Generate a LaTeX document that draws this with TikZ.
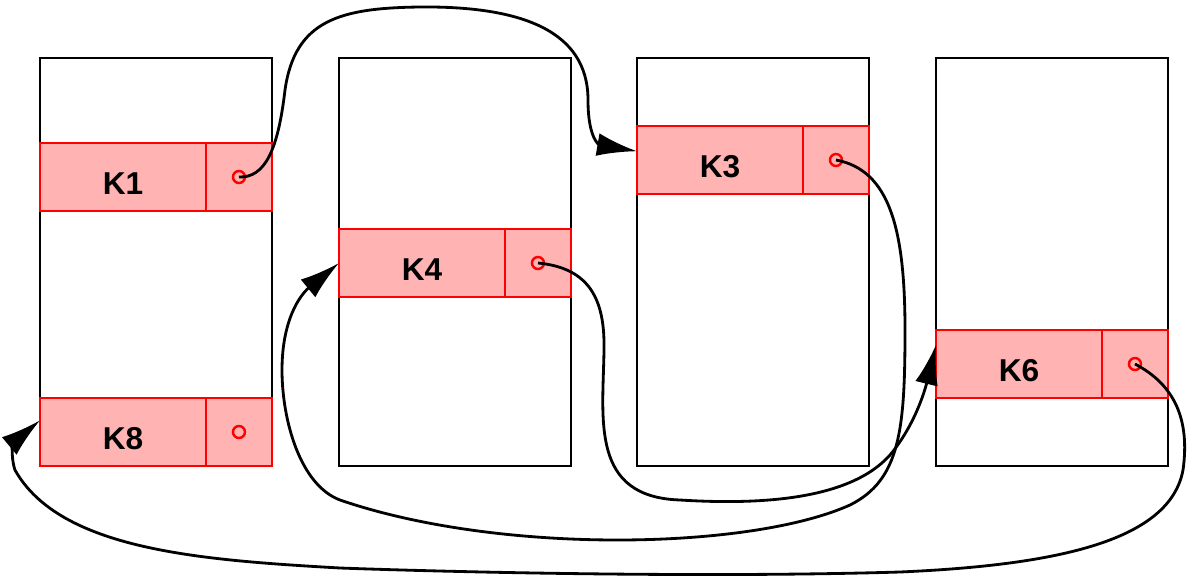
\documentclass[tikz,border=0pt]{standalone}
\usepackage{fontspec}
\setmainfont{Liberation Sans}
\usepackage{xcolor}
\usepackage{tikz}
\usetikzlibrary{positioning,arrows.meta}

\definecolor{entryfill}{RGB}{255,179,179}
\tikzset{
  bin/.style={draw=black, fill=white, line width=1.6pt, minimum width=4.64cm, minimum height=8.16cm, inner sep=0pt, outer sep=0pt},
  keycell/.style={draw=red, fill=entryfill, line width=1.6pt, minimum width=3.32cm, minimum height=1.36cm, inner sep=0pt, outer sep=0pt, text height=0.7cm, text depth=0pt, font=\fontsize{18}{20}\selectfont\bfseries},
  ptrcell/.style={keycell, minimum width=1.32cm},
  dot/.style={circle, draw=red, line width=1.4pt, minimum size=0.24cm, inner sep=0pt},
  link/.style={line width=1.6pt, -{Latex[length=8mm,width=4.6mm]}}
}

\begin{document}
\begin{tikzpicture}[x=0.02cm,y=-0.02cm]
\useasboundingbox (0,0) rectangle (1190,578);
  \foreach \i/\x in {1/156,2/455,3/753,4/1052}
    \node[bin] (bin\i) at (\x,262) {};
  % entries
  \node[keycell] (k1) at (123,177) {K1};
  \node[ptrcell, right=0pt of k1] (p1) {};
  \node[keycell] (k8) at (123,432) {K8};
  \node[ptrcell, right=0pt of k8] (p8) {};
  \node[keycell] (k4) at (422,263) {K4};
  \node[ptrcell, right=0pt of k4] (p4) {};
  \node[keycell] (k3) at (720,160) {K3};
  \node[ptrcell, right=0pt of k3] (p3) {};
  \node[keycell] (k6) at (1019,364) {K6};
  \node[ptrcell, right=0pt of k6] (p6) {};
  \foreach \p in {1,8,4,3,6}
    \node[dot] (d\p) at (p\p) {};
  % chain
  \draw[link] (d1.center) .. controls (265,178) and (278,150) .. (285,90)
    .. controls (295,20) and (340,8) .. (420,7)
    .. controls (520,6) and (588,30) .. (588,100)
    .. controls (588,140) and (600,145) .. (k3.174);
  \draw[link] (d3.center) .. controls (890,170) and (905,230) .. (905,330)
    .. controls (905,430) and (900,480) .. (850,505)
    .. controls (750,550) and (500,555) .. (340,500)
    .. controls (300,485) and (282,420) .. (282,370)
    .. controls (282,320) and (300,295) .. (k4.west);
  \draw[link] (d4.center) .. controls (590,268) and (605,300) .. (604,350)
    .. controls (603,420) and (590,497) .. (680,500)
    .. controls (760,505) and (850,500) .. (890,455)
    .. controls (915,425) and (925,390) .. (k6.167);
  \draw[link] (d6.center) .. controls (1175,385) and (1190,420) .. (1183,470)
    .. controls (1170,540) and (1060,565) .. (900,572)
    .. controls (700,578) and (450,572) .. (340,568)
    .. controls (200,560) and (60,550) .. (15,470)
    .. controls (10,455) and (14,442) .. (k8.172);
\end{tikzpicture}
\end{document}
